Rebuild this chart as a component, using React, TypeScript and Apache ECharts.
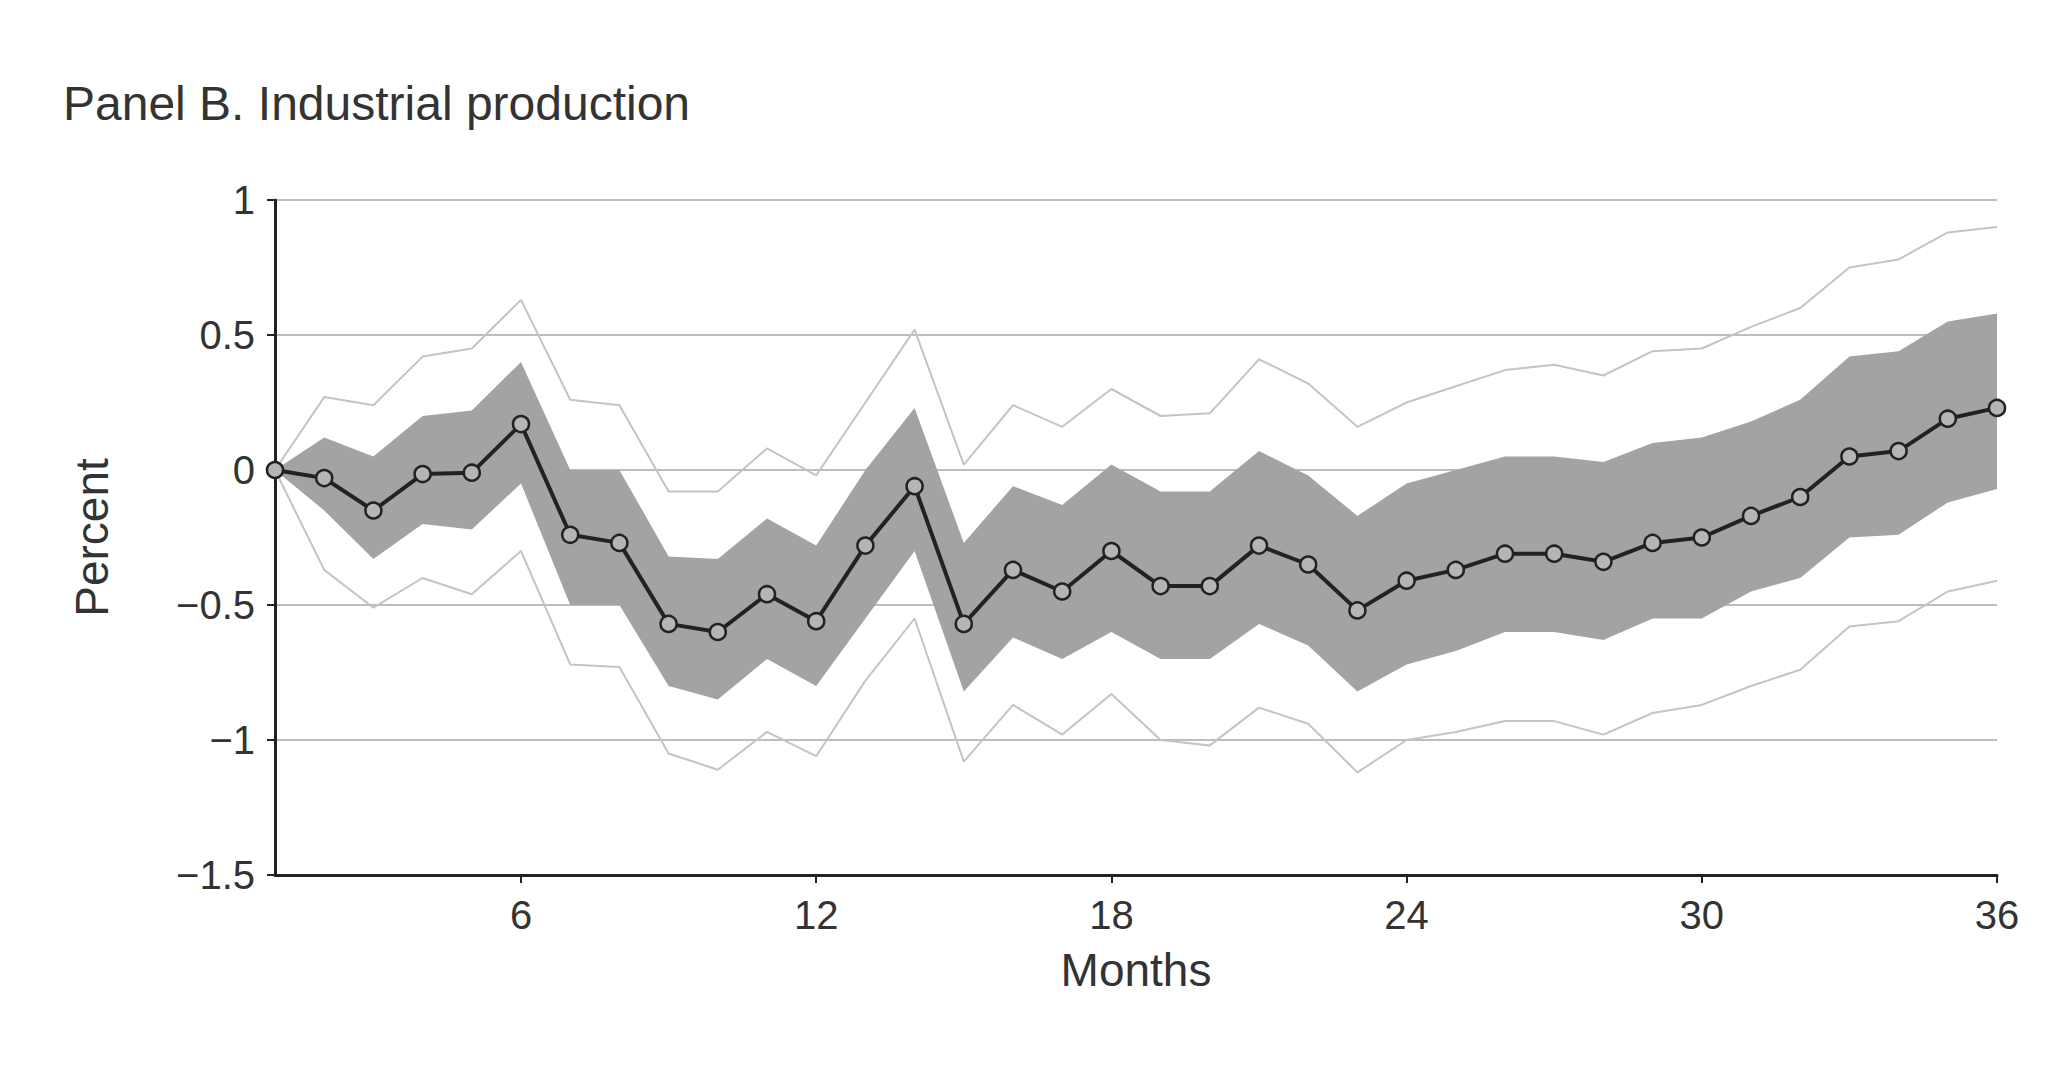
import { useEffect, useRef } from "react";
import * as echarts from "echarts";

const months = Array.from({ length: 36 }, (_, i) => i + 1);
const meanResp = [0, -0.03, -0.15, -0.015, -0.01, 0.17, -0.24, -0.27, -0.57, -0.6, -0.46, -0.56, -0.28, -0.06, -0.57, -0.37, -0.45, -0.3, -0.43, -0.43, -0.28, -0.35, -0.52, -0.41, -0.37, -0.31, -0.31, -0.34, -0.27, -0.25, -0.17, -0.1, 0.05, 0.07, 0.19, 0.23];
const innerUpper = [0, 0.12, 0.05, 0.2, 0.22, 0.4, 0, 0, -0.32, -0.33, -0.18, -0.28, 0, 0.23, -0.27, -0.06, -0.13, 0.02, -0.08, -0.08, 0.07, -0.02, -0.17, -0.05, 0, 0.05, 0.05, 0.03, 0.1, 0.12, 0.18, 0.26, 0.42, 0.44, 0.55, 0.58];
const innerLower = [0, -0.15, -0.33, -0.2, -0.22, -0.05, -0.5, -0.5, -0.8, -0.85, -0.7, -0.8, -0.55, -0.3, -0.82, -0.62, -0.7, -0.6, -0.7, -0.7, -0.57, -0.65, -0.82, -0.72, -0.67, -0.6, -0.6, -0.63, -0.55, -0.55, -0.45, -0.4, -0.25, -0.24, -0.12, -0.07];
const outerUpper = [0, 0.27, 0.24, 0.42, 0.45, 0.63, 0.26, 0.24, -0.08, -0.08, 0.08, -0.02, 0.25, 0.52, 0.02, 0.24, 0.16, 0.3, 0.2, 0.21, 0.41, 0.32, 0.16, 0.25, 0.31, 0.37, 0.39, 0.35, 0.44, 0.45, 0.53, 0.6, 0.75, 0.78, 0.88, 0.9];
const outerLower = [0, -0.37, -0.51, -0.4, -0.46, -0.3, -0.72, -0.73, -1.05, -1.11, -0.97, -1.06, -0.78, -0.55, -1.08, -0.87, -0.98, -0.83, -1.0, -1.02, -0.88, -0.94, -1.12, -1.0, -0.97, -0.93, -0.93, -0.98, -0.9, -0.87, -0.8, -0.74, -0.58, -0.56, -0.45, -0.41];
const xTicks = [6, 12, 18, 24, 30, 36];

const FONT = "Liberation Sans, Arial, sans-serif";

export default function App() {
  const ref = useRef<HTMLDivElement>(null);

  useEffect(() => {
    const el = ref.current;
    if (!el) return;
    const chart = echarts.init(el, undefined, { renderer: "svg" });
    const pts = (arr: number[]) => arr.map((v, i) => [months[i], v]);
    const thin = { color: "#c4c4c4", width: 2 };
    chart.setOption({
      animation: false,
      backgroundColor: "#fff",
      textStyle: { fontFamily: FONT },
      title: {
        text: "Panel B. Industrial production",
        left: 50,
        top: 66,
        textStyle: { fontFamily: FONT, fontWeight: "normal", fontSize: 48, color: "#333" },
      },
      grid: { left: 267, right: 63, top: 192, bottom: 185 },
      xAxis: {
        type: "value",
        min: 1,
        max: 36,
        name: "Months",
        nameLocation: "middle",
        nameGap: 72,
        nameTextStyle: { fontSize: 46, color: "#333", fontFamily: FONT },
        axisLine: { onZero: false, lineStyle: { color: "#222", width: 3 } },
        axisTick: { show: true, customValues: xTicks, length: 8, lineStyle: { color: "#222", width: 2 } },
        axisLabel: { customValues: xTicks, fontSize: 40, color: "#333", margin: 20 },
        splitLine: { show: false },
      },
      yAxis: {
        type: "value",
        min: -1.5,
        max: 1,
        interval: 0.5,
        name: "Percent",
        nameLocation: "middle",
        nameGap: 160,
        nameTextStyle: { fontSize: 46, color: "#333", fontFamily: FONT },
        axisLine: { show: true, lineStyle: { color: "#222", width: 3 } },
        axisTick: { show: true, length: 8, lineStyle: { color: "#222", width: 2 } },
        axisLabel: {
          fontSize: 40,
          color: "#333",
          margin: 20,
          formatter: (v: number) => String(v).replace("-", "\u2212"),
        },
        splitLine: { lineStyle: { color: "#bdbdbd", width: 2 } },
      },
      series: [
        {
          type: "custom",
          data: [[1, 0]],
          silent: true,
          z: 1,
          renderItem: (_params: any, api: any) => {
            const up = innerUpper.map((v, i) => api.coord([months[i], v]));
            const lo = innerLower.map((v, i) => api.coord([months[i], v])).reverse();
            return {
              type: "polygon",
              shape: { points: up.concat(lo) },
              style: { fill: "#a3a3a3" },
            };
          },
        },
        { type: "line", data: pts(outerUpper), symbol: "none", lineStyle: thin, z: 2 },
        { type: "line", data: pts(outerLower), symbol: "none", lineStyle: thin, z: 2 },
        {
          type: "line",
          data: pts(meanResp),
          symbol: "circle",
          symbolSize: 16,
          itemStyle: { color: "#b5b5b5", borderColor: "#222", borderWidth: 2.5 },
          lineStyle: { color: "#222", width: 4 },
          z: 5,
        },
      ],
    });
    return () => chart.dispose();
  }, []);

  return <div ref={ref} style={{ width: 2052, height: 1052 }} />;
}
